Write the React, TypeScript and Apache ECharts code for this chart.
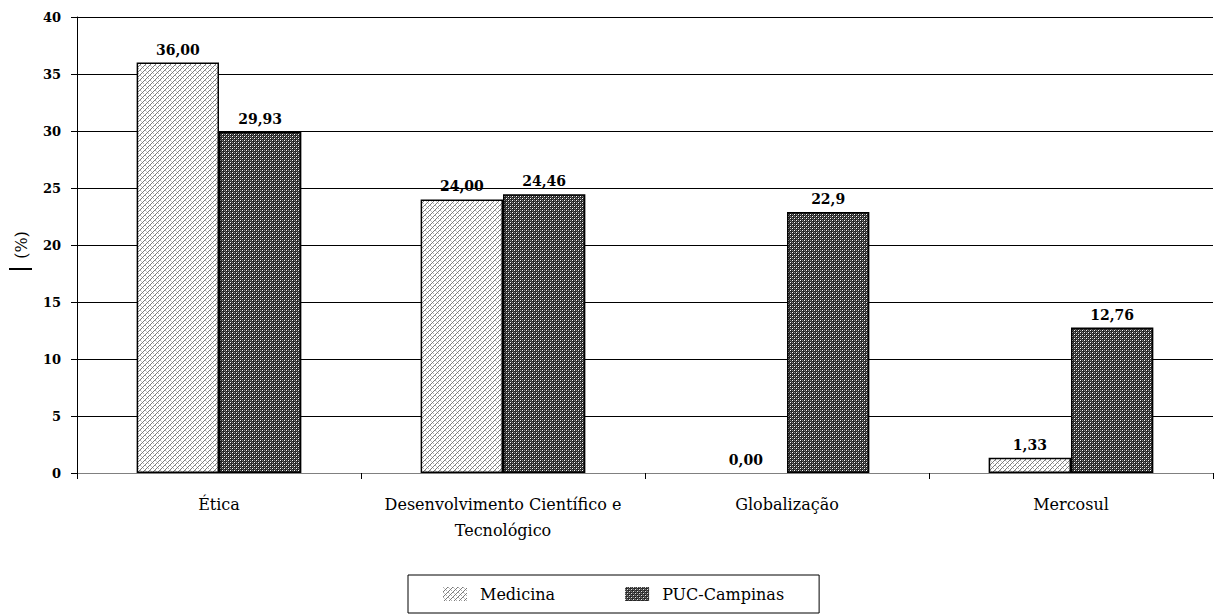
import React, { useEffect, useRef } from "react";
import * as echarts from "echarts";

const categories = ["Ética", "Desenvolvimento Científico e\nTecnológico", "Globalização", "Mercosul"];
const medicinaValues = [36.0, 24.0, 0.0, 1.33];
const pucValues = [29.93, 24.46, 22.9, 12.76];
const medicinaLabels = ["36,00", "24,00", "0,00", "1,33"];
const pucLabels = ["29,93", "24,46", "22,9", "12,76"];
const yTicks = { min: 0, max: 40, interval: 5 };

function makeTile(size: number, bg: string, pixels: Array<[number, number, string]>) {
  const c = document.createElement("canvas");
  c.width = size;
  c.height = size;
  const ctx = c.getContext("2d")!;
  ctx.fillStyle = bg;
  ctx.fillRect(0, 0, size, size);
  pixels.forEach(([x, y, col]) => {
    ctx.fillStyle = col;
    ctx.fillRect(x, y, 1, 1);
  });
  return c;
}

export default function App() {
  const ref = useRef<HTMLDivElement>(null);
  useEffect(() => {
    if (!ref.current) return;
    const chart = echarts.init(ref.current, null, { renderer: "svg" });

    const medPix: Array<[number, number, string]> = [];
    for (let i = 0; i < 5; i++) medPix.push([i, 4 - i, "#7a7a7a"]);
    medPix.push([0, 0, "#b0b0b0"], [1, 1, "#c8c8c8"], [3, 3, "#b0b0b0"]);
    const medTile = makeTile(5, "#ffffff", medPix);

    const pucTile = makeTile(4, "#262626", [
      [0, 0, "#ffffff"],
      [2, 2, "#ffffff"],
      [2, 0, "#8c8c8c"],
      [0, 2, "#8c8c8c"],
      [1, 3, "#5a5a5a"],
      [3, 1, "#5a5a5a"],
    ]);

    const serif = "DejaVu Serif";
    const withZeroHidden = (vals: number[]) =>
      vals.map((v) => (v === 0 ? { value: v, itemStyle: { borderWidth: 0 } } : v));

    chart.setOption({
      animation: false,
      backgroundColor: "#ffffff",
      grid: { left: 77, right: 1, top: 17, bottom: 143, outerBoundsMode: "none" },
      legend: {
        left: 408,
        top: 575,
        orient: "horizontal",
        itemWidth: 24,
        itemHeight: 14,
        itemGap: 70,
        padding: [11, 35, 11, 35],
        borderColor: "#000",
        borderWidth: 1,
        icon: "rect",
        itemStyle: { borderWidth: 0 },
        textStyle: { fontFamily: serif, fontSize: 16, color: "#000", padding: [0, 0, 0, 8] },
        data: ["Medicina", "PUC-Campinas"],
      },
      xAxis: {
        type: "category",
        data: categories,
        axisLine: { lineStyle: { color: "#808080", width: 1 } },
        axisTick: { show: true, length: 6, lineStyle: { color: "#000" } },
        axisLabel: { fontFamily: serif, fontSize: 16, color: "#000", margin: 18, lineHeight: 26, interval: 0 },
      },
      yAxis: {
        type: "value",
        min: yTicks.min,
        max: yTicks.max,
        interval: yTicks.interval,
        name: "(%)",
        nameLocation: "middle",
        nameRotate: 90,
        nameGap: 48,
        nameTextStyle: { fontFamily: serif, fontSize: 16, color: "#000" },
        axisLine: { show: true, lineStyle: { color: "#000", width: 1 } },
        axisTick: { show: true, length: 6, lineStyle: { color: "#000" } },
        axisLabel: { fontFamily: serif, fontSize: 13, fontWeight: "bold", color: "#000", margin: 16 },
        splitLine: { show: true, lineStyle: { color: "#000", width: 1 } },
      },
      graphic: [
        { type: "line", shape: { x1: 9, y1: 269, x2: 32, y2: 269 }, style: { stroke: "#000", lineWidth: 2 } },
      ],
      series: [
        {
          name: "Medicina",
          type: "bar",
          data: withZeroHidden(medicinaValues),
          barGap: "0%",
          barCategoryGap: "42%",
          itemStyle: { color: { image: medTile, repetition: "repeat" }, borderColor: "#000", borderWidth: 1.5 },
          label: {
            show: true,
            position: "top",
            distance: 6,
            fontFamily: serif,
            fontSize: 14,
            fontWeight: "bold",
            color: "#000",
            formatter: (p: any) => medicinaLabels[p.dataIndex],
          },
        },
        {
          name: "PUC-Campinas",
          type: "bar",
          data: withZeroHidden(pucValues),
          barGap: "0%",
          barCategoryGap: "42%",
          itemStyle: { color: { image: pucTile, repetition: "repeat" }, borderColor: "#000", borderWidth: 1.5 },
          label: {
            show: true,
            position: "top",
            distance: 6,
            fontFamily: serif,
            fontSize: 14,
            fontWeight: "bold",
            color: "#000",
            formatter: (p: any) => pucLabels[p.dataIndex],
          },
        },
      ],
    });
    return () => chart.dispose();
  }, []);
  return (
    <div
      ref={ref}
      style={{ position: "fixed", left: 0, top: 0, width: 1214, height: 616, background: "#fff" }}
    />
  );
}
